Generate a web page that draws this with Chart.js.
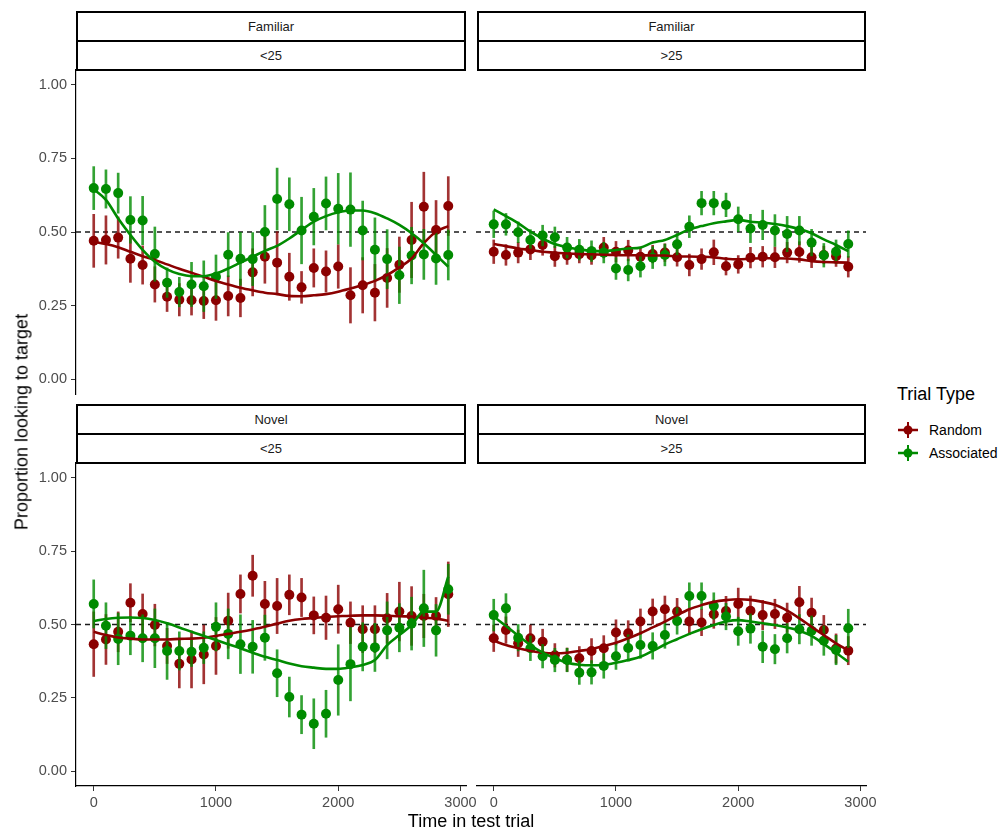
<!DOCTYPE html>
<html>
<head>
<meta charset="utf-8">
<script src="https://cdn.jsdelivr.net/npm/chart.js@4.4.1/dist/chart.umd.min.js"></script>
<style>
    body { margin: 0; background: #ffffff; font-family: "Liberation Sans", Arial, sans-serif; }
    #page { position: relative; width: 1003px; height: 831px; overflow: hidden; }
    canvas { position: absolute; }
    .strip { position: absolute; box-sizing: border-box; border: 2px solid #000; background: #fff;
             display: flex; align-items: center; justify-content: center; font-size: 13px; color: #1a1a1a; }
    .label { position: absolute; color: #000; white-space: nowrap; }
    .legend_text { position: absolute; font-size: 14px; color: #000; }
</style>
</head>
<body>
<div id="page">
    <!-- canvases reach 14px past the panel so the y tick labels get room without shrinking the plot -->
    <canvas id="panel_tl" width="466" height="352" style="left:0px; top:56px;"></canvas>
    <canvas id="panel_tr" width="390" height="352" style="left:476px; top:56px;"></canvas>
    <canvas id="panel_bl" width="490" height="374" style="left:0px; top:449px;"></canvas>
    <canvas id="panel_br" width="414" height="374" style="left:476px; top:449px;"></canvas>

    <div class="strip" style="left:76px; top:11px; width:390px; height:31px;">Familiar</div>
    <div class="strip" style="left:76px; top:40px; width:390px; height:31px;">&lt;25</div>
    <div class="strip" style="left:477px; top:11px; width:389px; height:31px;">Familiar</div>
    <div class="strip" style="left:477px; top:40px; width:389px; height:31px;">&gt;25</div>
    <div class="strip" style="left:76px; top:404px; width:390px; height:31px;">Novel</div>
    <div class="strip" style="left:76px; top:433px; width:390px; height:31px;">&lt;25</div>
    <div class="strip" style="left:477px; top:404px; width:389px; height:31px;">Novel</div>
    <div class="strip" style="left:477px; top:433px; width:389px; height:31px;">&gt;25</div>

    <div class="label" style="font-size:18px; left:22px; top:422px; transform: translate(-50%, -50%) rotate(-90deg);">Proportion looking to target</div>
    <div class="label" style="font-size:18px; left:471px; top:821px; transform: translate(-50%, -50%);">Time in test trial</div>

    <div class="label" style="font-size:18px; left:897px; top:384px;">Trial Type</div>
    <svg style="position:absolute; left:896px; top:421px;" width="24" height="18">
        <line x1="2" y1="9" x2="22" y2="9" stroke="#8B0000" stroke-width="2.5"/>
        <line x1="12" y1="1" x2="12" y2="17" stroke="#8B0000" stroke-width="2"/>
        <circle cx="12" cy="9" r="4.5" fill="#8B0000"/>
    </svg>
    <svg style="position:absolute; left:896px; top:444px;" width="24" height="18">
        <line x1="2" y1="9" x2="22" y2="9" stroke="#008B00" stroke-width="2.5"/>
        <line x1="12" y1="1" x2="12" y2="17" stroke="#008B00" stroke-width="2"/>
        <circle cx="12" cy="9" r="4.5" fill="#008B00"/>
    </svg>
    <div class="legend_text" style="left:929px; top:422px;">Random</div>
    <div class="legend_text" style="left:929px; top:445px;">Associated</div>
</div>

<script>
// time bins in the test trial (ms)
var times = [0, 100, 200, 300, 400, 500, 600, 700, 800, 900, 1000, 1100, 1200, 1300, 1400,
             1500, 1600, 1700, 1800, 1900, 2000, 2100, 2200, 2300, 2400, 2500, 2600, 2700, 2800, 2900];
var xTicks = [0, 1000, 2000, 3000];
var yTicks = [0, 0.25, 0.5, 0.75, 1];
var xMin = -145, xMax = 3045;
var yMin = -0.05, yMax = 1.05;
var chanceLevel = 0.5;

// Familiar, <25
var famYoungRandom = [0.470, 0.473, 0.481, 0.409, 0.388, 0.322, 0.280, 0.270, 0.268, 0.266, 0.268, 0.283, 0.276, 0.363, 0.416,
                      0.396, 0.348, 0.312, 0.378, 0.366, 0.383, 0.285, 0.319, 0.294, 0.344, 0.389, 0.473, 0.586, 0.507, 0.588];
var famYoungRandomErr = [0.090, 0.082, 0.070, 0.080, 0.065, 0.060, 0.050, 0.055, 0.050, 0.060, 0.068, 0.068, 0.064, 0.080, 0.090,
                         0.105, 0.080, 0.054, 0.065, 0.070, 0.074, 0.094, 0.094, 0.096, 0.100, 0.094, 0.128, 0.117, 0.100, 0.100];
var famYoungAssoc = [0.649, 0.646, 0.632, 0.541, 0.539, 0.425, 0.328, 0.296, 0.322, 0.316, 0.348, 0.423, 0.409, 0.408, 0.500,
                     0.612, 0.594, 0.505, 0.552, 0.597, 0.579, 0.576, 0.505, 0.440, 0.408, 0.353, 0.420, 0.424, 0.410, 0.422];
var famYoungAssocErr = [0.073, 0.065, 0.068, 0.079, 0.082, 0.092, 0.050, 0.050, 0.075, 0.086, 0.074, 0.075, 0.090, 0.090, 0.090,
                        0.105, 0.090, 0.113, 0.096, 0.090, 0.120, 0.125, 0.100, 0.108, 0.100, 0.096, 0.096, 0.085, 0.088, 0.085];
var famYoungRandomFit = [0.467, 0.459, 0.448, 0.433, 0.418, 0.405, 0.390, 0.375, 0.362, 0.348, 0.334, 0.322, 0.311, 0.302, 0.294,
                         0.289, 0.283, 0.282, 0.285, 0.289, 0.297, 0.308, 0.320, 0.334, 0.354, 0.380, 0.410, 0.462, 0.501, 0.520];
var famYoungAssocFit = [0.645, 0.609, 0.546, 0.490, 0.439, 0.399, 0.373, 0.357, 0.350, 0.350, 0.359, 0.376, 0.396, 0.416, 0.436,
                        0.453, 0.478, 0.507, 0.535, 0.554, 0.567, 0.573, 0.573, 0.564, 0.546, 0.524, 0.496, 0.462, 0.422, 0.382];

// Familiar, >25
var famOldRandom = [0.433, 0.422, 0.430, 0.441, 0.456, 0.418, 0.420, 0.425, 0.420, 0.447, 0.433, 0.437, 0.416, 0.425, 0.430,
                    0.414, 0.388, 0.408, 0.431, 0.384, 0.390, 0.413, 0.416, 0.414, 0.430, 0.432, 0.414, 0.422, 0.418, 0.382];
var famOldRandomErr = [0.040, 0.035, 0.035, 0.035, 0.035, 0.035, 0.030, 0.030, 0.030, 0.035, 0.035, 0.035, 0.030, 0.030, 0.030,
                       0.030, 0.037, 0.035, 0.042, 0.030, 0.030, 0.035, 0.035, 0.035, 0.035, 0.035, 0.035, 0.030, 0.035, 0.035];
var famOldAssoc = [0.526, 0.526, 0.499, 0.473, 0.488, 0.482, 0.447, 0.440, 0.435, 0.430, 0.376, 0.371, 0.384, 0.413, 0.422,
                   0.458, 0.518, 0.598, 0.598, 0.592, 0.543, 0.512, 0.524, 0.505, 0.493, 0.505, 0.464, 0.421, 0.433, 0.459];
var famOldAssocErr = [0.045, 0.037, 0.035, 0.035, 0.035, 0.035, 0.035, 0.035, 0.035, 0.035, 0.037, 0.037, 0.037, 0.037, 0.037,
                      0.037, 0.037, 0.040, 0.040, 0.040, 0.042, 0.048, 0.050, 0.054, 0.060, 0.048, 0.045, 0.040, 0.040, 0.045];
var famOldRandomFit = [0.459, 0.452, 0.444, 0.439, 0.433, 0.430, 0.427, 0.425, 0.424, 0.423, 0.422, 0.421, 0.421, 0.420, 0.420,
                       0.417, 0.417, 0.416, 0.414, 0.409, 0.407, 0.409, 0.411, 0.411, 0.410, 0.407, 0.401, 0.398, 0.397, 0.396];
var famOldAssocFit = [0.577, 0.554, 0.530, 0.501, 0.478, 0.459, 0.448, 0.441, 0.436, 0.435, 0.439, 0.444, 0.447, 0.464, 0.473,
                      0.490, 0.509, 0.520, 0.530, 0.536, 0.541, 0.535, 0.532, 0.527, 0.520, 0.510, 0.496, 0.475, 0.456, 0.435];

// Novel, <25
var novYoungRandom = [0.433, 0.449, 0.475, 0.574, 0.536, 0.498, 0.427, 0.366, 0.381, 0.398, 0.427, 0.513, 0.604, 0.666, 0.570,
                      0.563, 0.601, 0.592, 0.531, 0.523, 0.552, 0.506, 0.484, 0.484, 0.521, 0.544, 0.529, 0.529, 0.529, 0.603];
var novYoungRandomErr = [0.110, 0.085, 0.068, 0.065, 0.068, 0.071, 0.060, 0.082, 0.097, 0.100, 0.097, 0.094, 0.065, 0.070, 0.077,
                         0.094, 0.068, 0.065, 0.063, 0.074, 0.082, 0.071, 0.080, 0.080, 0.085, 0.100, 0.100, 0.074, 0.063, 0.110];
var novYoungAssoc = [0.570, 0.496, 0.451, 0.462, 0.453, 0.453, 0.410, 0.410, 0.407, 0.421, 0.492, 0.468, 0.433, 0.424, 0.455,
                     0.334, 0.253, 0.193, 0.162, 0.196, 0.311, 0.365, 0.424, 0.422, 0.480, 0.489, 0.503, 0.555, 0.480, 0.620];
var novYoungAssocErr = [0.082, 0.078, 0.088, 0.065, 0.080, 0.100, 0.097, 0.065, 0.050, 0.054, 0.082, 0.085, 0.100, 0.090, 0.077,
                        0.080, 0.068, 0.065, 0.085, 0.080, 0.120, 0.125, 0.082, 0.082, 0.097, 0.082, 0.090, 0.130, 0.088, 0.085];
var novYoungRandomFit = [0.475, 0.464, 0.456, 0.452, 0.449, 0.449, 0.449, 0.451, 0.452, 0.455, 0.461, 0.468, 0.475, 0.483, 0.492,
                         0.503, 0.513, 0.519, 0.522, 0.526, 0.528, 0.530, 0.531, 0.531, 0.530, 0.528, 0.527, 0.523, 0.520, 0.513];
var novYoungAssocFit = [0.512, 0.519, 0.523, 0.524, 0.522, 0.515, 0.504, 0.490, 0.475, 0.461, 0.447, 0.433, 0.419, 0.404, 0.390,
                        0.379, 0.367, 0.358, 0.353, 0.349, 0.349, 0.354, 0.362, 0.379, 0.430, 0.464, 0.498, 0.544, 0.544, 0.663];

// Novel, >25
var novOldRandom = [0.453, 0.481, 0.436, 0.453, 0.441, 0.395, 0.380, 0.385, 0.410, 0.419, 0.473, 0.470, 0.510, 0.544, 0.552,
                    0.544, 0.510, 0.507, 0.535, 0.546, 0.570, 0.547, 0.532, 0.536, 0.523, 0.576, 0.540, 0.481, 0.418, 0.411];
var novOldRandomErr = [0.045, 0.045, 0.045, 0.045, 0.043, 0.040, 0.040, 0.040, 0.042, 0.043, 0.043, 0.043, 0.043, 0.043, 0.045,
                       0.045, 0.045, 0.045, 0.048, 0.050, 0.054, 0.050, 0.050, 0.050, 0.050, 0.054, 0.050, 0.050, 0.050, 0.048];
var novOldAssoc = [0.532, 0.555, 0.455, 0.419, 0.392, 0.379, 0.379, 0.336, 0.337, 0.359, 0.392, 0.420, 0.430, 0.427, 0.464,
                   0.512, 0.597, 0.597, 0.563, 0.527, 0.477, 0.486, 0.424, 0.416, 0.453, 0.484, 0.479, 0.445, 0.413, 0.487];
var novOldAssocErr = [0.054, 0.050, 0.045, 0.042, 0.040, 0.040, 0.040, 0.040, 0.040, 0.042, 0.045, 0.045, 0.045, 0.045, 0.045,
                      0.045, 0.045, 0.045, 0.045, 0.045, 0.048, 0.050, 0.054, 0.050, 0.050, 0.050, 0.050, 0.050, 0.050, 0.065];
var novOldRandomFit = [0.445, 0.430, 0.419, 0.410, 0.404, 0.402, 0.404, 0.410, 0.416, 0.427, 0.438, 0.453, 0.470, 0.490, 0.510,
                       0.532, 0.552, 0.566, 0.577, 0.583, 0.586, 0.584, 0.577, 0.567, 0.547, 0.521, 0.492, 0.464, 0.436, 0.411];
var novOldAssocFit = [0.527, 0.495, 0.462, 0.430, 0.404, 0.385, 0.370, 0.363, 0.361, 0.363, 0.370, 0.379, 0.390, 0.410, 0.432,
                      0.450, 0.468, 0.484, 0.498, 0.510, 0.515, 0.510, 0.504, 0.498, 0.490, 0.479, 0.461, 0.433, 0.404, 0.373];

var randomColor = "#8B0000";
var assocColor = "#008B00";
var randomBarColor = "rgba(139, 0, 0, 0.8)";
var assocBarColor = "rgba(0, 139, 0, 0.8)";

Chart.defaults.font.family = "'Liberation Sans', Arial, sans-serif";
Chart.defaults.animation = false;

function pointData(values) {
    return times.map(function (t, i) { return { x: t, y: values[i] }; });
}

function errorData(values, errors) {
    return times.map(function (t, i) { return { x: t, y: [values[i] - errors[i], values[i] + errors[i]] }; });
}

function errorBars(values, errors, color, order) {
    return {
        type: "bar",
        data: errorData(values, errors),
        backgroundColor: color,
        borderWidth: 0,
        barThickness: 2,
        grouped: false,
        order: order
    };
}

function points(values, color, order) {
    return {
        type: "scatter",
        data: pointData(values),
        backgroundColor: color,
        borderWidth: 0,
        pointRadius: 5,
        pointHoverRadius: 5,
        order: order
    };
}

function fitLine(values, color, order) {
    return {
        type: "line",
        data: pointData(values),
        borderColor: color,
        borderWidth: 2.6,
        pointRadius: 0,
        fill: false,
        cubicInterpolationMode: "monotone",
        order: order
    };
}

function buildPanel(canvasId, panel, showX, showY, pad) {
    var datasets = [
        {
            type: "line",
            data: [{ x: xMin, y: chanceLevel }, { x: xMax, y: chanceLevel }],
            borderColor: "#1a1a1a",
            borderWidth: 1.3,
            borderDash: [5, 4],
            pointRadius: 0,
            order: 10
        },
        errorBars(panel.random, panel.randomErr, randomBarColor, 8),
        errorBars(panel.assoc, panel.assocErr, assocBarColor, 6),
        points(panel.random, randomColor, 7),
        points(panel.assoc, assocColor, 5),
        fitLine(panel.randomFit, randomColor, 2),
        fitLine(panel.assocFit, assocColor, 1)
    ];

    var xScale = {
        type: "linear",
        display: showX,
        min: xMin,
        max: xMax,
        offset: false,
        afterBuildTicks: function (scale) {
            scale.ticks = xTicks.map(function (v) { return { value: v }; });
        },
        grid: { offset: false, drawOnChartArea: false, drawTicks: true, tickLength: 5, color: "#333333" },
        border: { display: true, color: "#000000", width: 1.2 },
        ticks: {
            padding: 3,
            maxRotation: 0,
            color: "#4d4d4d",
            font: { size: 14.5 },
            callback: function (v) { return String(v); }
        }
    };
    if (showX) {
        xScale.afterFit = function (scale) { scale.height = 37; };
    }

    var yScale = {
        type: "linear",
        display: showY,
        min: yMin,
        max: yMax,
        afterBuildTicks: function (scale) {
            scale.ticks = yTicks.map(function (v) { return { value: v }; });
        },
        grid: { drawOnChartArea: false, drawTicks: true, tickLength: 5, color: "#333333" },
        border: { display: true, color: "#000000", width: 1.2 },
        ticks: {
            padding: 4,
            color: "#4d4d4d",
            font: { size: 14.5 },
            callback: function (v) { return v.toFixed(2); }
        }
    };
    if (showY) {
        yScale.afterFit = function (scale) { scale.width = 76; };
    }

    return new Chart(document.getElementById(canvasId), {
        type: "line",
        data: { datasets: datasets },
        options: {
            responsive: false,
            devicePixelRatio: 1,
            layout: { autoPadding: false, padding: pad },
            plugins: { legend: { display: false }, tooltip: { enabled: false } },
            scales: { x: xScale, y: yScale }
        }
    });
}

buildPanel("panel_tl", {
    random: famYoungRandom, randomErr: famYoungRandomErr, randomFit: famYoungRandomFit,
    assoc: famYoungAssoc, assocErr: famYoungAssocErr, assocFit: famYoungAssocFit
}, false, true, { left: 0, right: 0, top: 14, bottom: 14 });

buildPanel("panel_tr", {
    random: famOldRandom, randomErr: famOldRandomErr, randomFit: famOldRandomFit,
    assoc: famOldAssoc, assocErr: famOldAssocErr, assocFit: famOldAssocFit
}, false, false, { left: 0, right: 0, top: 14, bottom: 14 });

buildPanel("panel_bl", {
    random: novYoungRandom, randomErr: novYoungRandomErr, randomFit: novYoungRandomFit,
    assoc: novYoungAssoc, assocErr: novYoungAssocErr, assocFit: novYoungAssocFit
}, true, true, { left: 0, right: 24, top: 14, bottom: 0 });

buildPanel("panel_br", {
    random: novOldRandom, randomErr: novOldRandomErr, randomFit: novOldRandomFit,
    assoc: novOldAssoc, assocErr: novOldAssocErr, assocFit: novOldAssocFit
}, true, false, { left: 0, right: 24, top: 14, bottom: 0 });
</script>
</body>
</html>
